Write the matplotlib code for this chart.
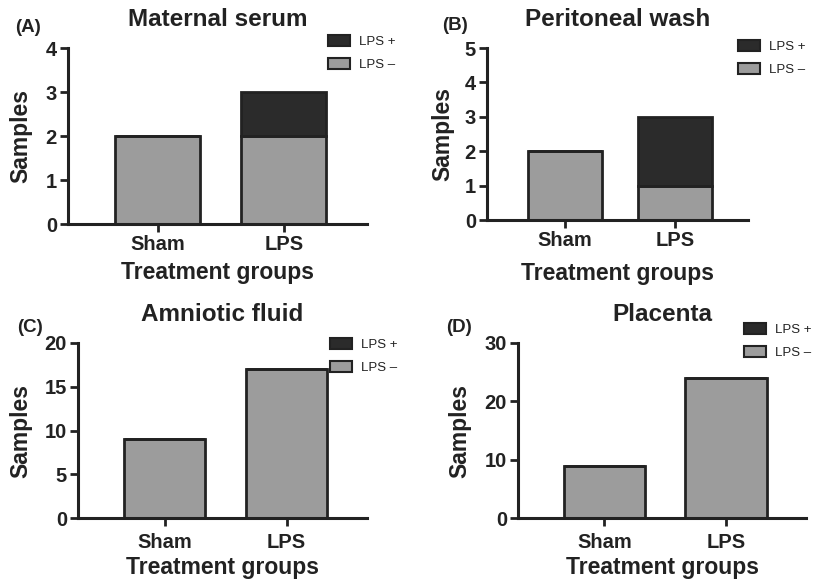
import matplotlib
matplotlib.use("Agg")
import matplotlib.pyplot as plt
from matplotlib.patches import Patch

plt.rcParams['font.family'] = ['Liberation Sans', 'DejaVu Sans']

groups = ['Sham', 'LPS']

# LPS negative / LPS positive sample counts per panel
serum_neg = [2, 2]
serum_pos = [0, 1]
wash_neg = [2, 1]
wash_pos = [0, 2]
fluid_neg = [9, 17]
fluid_pos = [0, 0]
placenta_neg = [9, 24]
placenta_pos = [0, 0]

titles = ['Maternal serum', 'Peritoneal wash', 'Amniotic fluid', 'Placenta']
letters = ['(A)', '(B)', '(C)', '(D)']
yticks_list = [[0, 1, 2, 3, 4], [0, 1, 2, 3, 4, 5], [0, 5, 10, 15, 20], [0, 10, 20, 30]]

gray = '#9c9c9c'
dark = '#2b2b2b'
ink = '#222222'

W, H = 823, 579
fig = plt.figure(figsize=(W / 100, H / 100), dpi=100)
fig.set_facecolor('white')

# axes boxes in pixels: left, right, top, bottom
boxes = [(68, 367, 48, 224), (487, 748, 48, 220), (78, 367, 343, 518), (518, 806, 343, 518)]
leg_anchor = [(328, 35), (738, 40), (330, 338), (744, 323)]
letter_pos = [(28, 27), (455, 26), (30, 328), (459, 328)]
ylab_x = [-0.12, -0.126, -0.159, -0.161]
xtick_pad = [2, 2, 5, 5]
xlab_pad = [5, 8.5, 3, 2.5]

data = [(serum_neg, serum_pos), (wash_neg, wash_pos), (fluid_neg, fluid_pos), (placenta_neg, placenta_pos)]

for i in range(4):
    l, r, t, b = boxes[i]
    ax = fig.add_axes([l / W, 1 - b / H, (r - l) / W, (b - t) / H])
    neg, pos = data[i]
    xs = [0, 1]
    ax.bar(xs, neg, width=0.67, color=gray, edgecolor=ink, linewidth=2, zorder=2)
    ax.bar(xs, pos, bottom=neg, width=0.67, color=dark, edgecolor=ink, linewidth=2, zorder=2)
    ax.set_xlim(-0.71, 1.66)
    ax.set_ylim(0, yticks_list[i][-1])
    ax.set_yticks(yticks_list[i])
    ax.set_xticks(xs)
    ax.set_xticklabels(groups)
    for s in ['top', 'right']:
        ax.spines[s].set_visible(False)
    for s in ['left', 'bottom']:
        ax.spines[s].set_linewidth(2.2)
        ax.spines[s].set_color(ink)
    ax.tick_params(width=2, length=6, color=ink, labelsize=14.5, pad=2, labelcolor=ink)
    ax.tick_params(axis='x', pad=xtick_pad[i])
    for lab in ax.get_xticklabels() + ax.get_yticklabels():
        lab.set_fontweight('bold')
    ax.set_title(titles[i], fontsize=17.5, fontweight='bold', pad=16, color=ink)
    ax.set_ylabel('Samples', fontsize=16.5, fontweight='bold', color=ink)
    ax.yaxis.set_label_coords(ylab_x[i], 0.5)
    ax.set_xlabel('Treatment groups', fontsize=16.5, fontweight='bold', color=ink, labelpad=xlab_pad[i])

    handles = [Patch(facecolor=dark, edgecolor=ink, linewidth=1.5),
               Patch(facecolor=gray, edgecolor=ink, linewidth=1.5)]
    ax_x, ax_y = leg_anchor[i]
    fig.legend(handles, ['LPS +', 'LPS \u2013'], loc='upper left',
               bbox_to_anchor=(ax_x / W, 1 - ax_y / H), frameon=False, fontsize=9.5,
               borderpad=0, borderaxespad=0, handlelength=1.65, handleheight=0.85,
               handletextpad=0.7, labelspacing=0.8, labelcolor=ink)

    lx, ly = letter_pos[i]
    fig.text(lx / W, 1 - ly / H, letters[i], fontsize=13.5, fontweight='bold',
             ha='center', va='center', color=ink)

fig.savefig('out.png', dpi=100)
